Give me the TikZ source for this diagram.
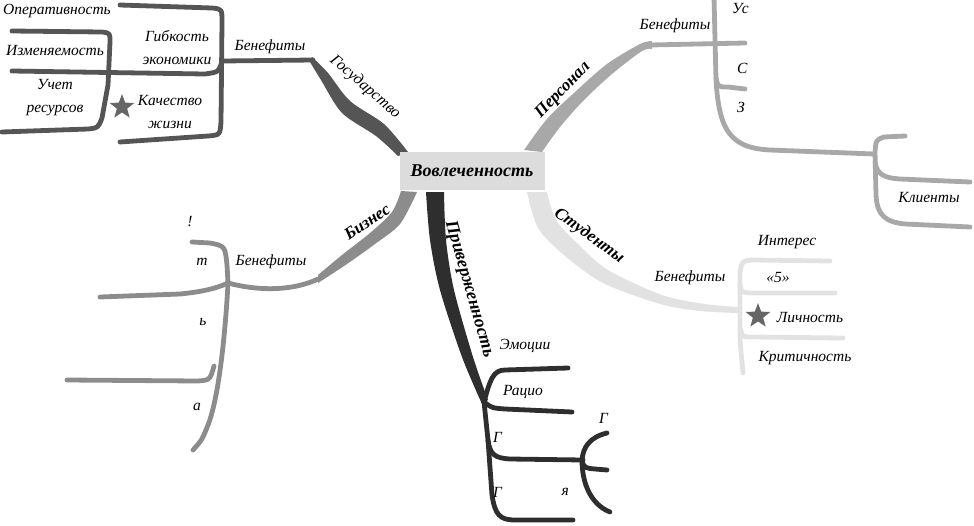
\documentclass[tikz,border=0pt]{standalone}
\usepackage{fontspec}
\setmainfont{Liberation Serif}
\usetikzlibrary{shapes.geometric}
\definecolor{cGos}{HTML}{555555}
\definecolor{cPer}{HTML}{A8A8A8}
\definecolor{cBiz}{HTML}{8C8C8C}
\definecolor{cPri}{HTML}{2E2E2E}
\definecolor{cStu}{HTML}{E2E2E2}
\definecolor{cBox}{HTML}{DCDCDC}
\definecolor{cStar}{HTML}{666666}
\tikzset{
  lbl/.style={font=\fontsize{15.5}{23}\selectfont\itshape, inner sep=1pt, align=center},
  blbl/.style={font=\fontsize{17}{19}\selectfont\bfseries\itshape, inner sep=1pt},
  rlbl/.style={font=\fontsize{16}{18}\selectfont\itshape, inner sep=1pt},
  twig/.style={line width=4.8pt, line cap=round, line join=round},
  starmark/.style={star, star points=5, star point ratio=2.4, fill=cStar, draw=none, minimum size=26pt, inner sep=0pt},
  corebox/.style={fill=cBox, minimum width=145pt, minimum height=38pt, inner sep=0pt, font=\fontsize{18}{20}\selectfont\bfseries\itshape}
}
\begin{document}
\begin{tikzpicture}[x=1pt,y=-1pt]
\useasboundingbox (0,0) rectangle (974,525);

% ---------- Государство ----------
\fill[cGos] plot[smooth] coordinates {(312,57) (328,73) (350,101) (384,124) (408,152)}
  -- plot[smooth] coordinates {(398,156) (376,136) (342,113) (321,80) (310,62)} -- cycle;
\coordinate (gB) at (313,60);
\draw[twig,cGos] (gB) -- (222,61) .. controls (219,72) .. (205,74) -- (12,71);
\draw[twig,cGos] (120,5) -- (212,8) .. controls (222,9) .. (222,22) -- (221,122) .. controls (220,135) .. (208,136) -- (120,142);
\draw[twig,cGos] (12,31) -- (102,32) .. controls (110,33) .. (110,42) -- (108,85) -- (102,118) .. controls (98,128) .. (88,129) -- (2,132);
\node[lbl] (oper) at (57,11) {Оперативность};
\node[lbl] (izm) at (55,50) {Изменяемость};
\node[lbl] (gib) at (177,48) {Гибкость\\экономики};
\node[lbl] (uchet) at (55,98) {Учет\\ресурсов};
\node[starmark] (st1) at (122,107) {};
\node[lbl] (kach) at (170,112) {Качество\\жизни};
\node[lbl] (benG) at (270,47) {Бенефиты};
\node[rlbl, rotate=-41] (gos) at (365,87) {Государство};

% ---------- Персонал ----------
\fill[cPer] plot[smooth] coordinates {(524,150) (547,119) (575,92) (607,64) (640,44) (652,41)}
  -- plot[smooth] coordinates {(652,49) (642,51) (612,74) (584,100) (560,127) (542,152)} -- cycle;
\draw[twig,cPer] (650,45) -- (745,43);
\draw[twig,cPer] (714,-3) -- (716,80) .. controls (719,130) and (730,148) .. (770,150) -- (874,154);
\draw[twig,cPer] (716,78) .. controls (718,87) .. (728,87) -- (745,89);
\draw[twig,cPer] (905,136) -- (884,137) .. controls (876,140) .. (875,152) -- (876,195) .. controls (877,215) and (885,222) .. (905,224) -- (970,227);
\draw[twig,cPer] (875,162) .. controls (877,175) and (885,178) .. (900,179) -- (970,182);
\node[blbl, rotate=46] (per) at (563,90) {Персонал};
\node[lbl] (benP) at (675,26) {Бенефиты};
\node[lbl, anchor=west] (fu) at (731,8) {Ус};
\node[lbl, anchor=west] (fs) at (736,68) {С};
\node[lbl, anchor=west] (fz) at (736,107) {З};
\node[lbl] (kli) at (929,198) {Клиенты};

% ---------- Бизнес ----------
\fill[cBiz] plot[smooth] coordinates {(401,191) (392,212) (370,233) (342,255) (318,275)}
  -- plot[smooth] coordinates {(318,283) (347,264) (375,244) (400,224) (417,192)} -- cycle;
\coordinate (bF) at (228,283);
\draw[twig,cBiz] (318,279) .. controls (295,290) and (262,292) .. (bF) .. controls (215,289) and (200,292) .. (180,294) -- (100,297);
\draw[twig,cBiz] (192,242) -- (210,243) .. controls (225,246) .. (227,265) -- (bF);
\draw[twig,cBiz] (bF) .. controls (225,340) and (218,400) .. (208,425) .. controls (202,440) .. (193,450);
\draw[twig,cBiz] (214,366) .. controls (210,380) .. (198,381) -- (67,380);
\node[lbl] (benB) at (271,262) {Бенефиты};
\node[blbl, rotate=34] (biz) at (367,222) {Бизнес};
\node[lbl] (f1) at (190,222) {!};
\node[lbl] (f2) at (202,262) {т};
\node[lbl] (f3) at (203,322) {ь};
\node[lbl] (f4) at (197,407) {а};

% ---------- Приверженность ----------
\fill[cPri] plot[smooth] coordinates {(426,192) (430,240) (440,290) (462,357) (482,404)}
  -- plot[smooth] coordinates {(488,400) (473,357) (454,290) (446,240) (444,192)} -- cycle;
\coordinate (pF) at (484,402);
\draw[twig,cPri] (pF) .. controls (490,380) and (493,370) .. (505,370) -- (568,368);
\draw[twig,cPri] (pF) .. controls (492,408) .. (505,409) -- (572,412);
\draw[twig,cPri] (pF) -- (488,440) .. controls (490,455) and (495,458) .. (510,459) -- (583,460);
\draw[twig,cPri] (488,440) -- (492,495) .. controls (495,515) and (500,520) .. (515,520) -- (573,520);
\draw[twig,cPri] (607,433) .. controls (590,437) and (583,447) .. (582,460) .. controls (582,485) and (592,505) .. (610,512);
\draw[twig,cPri] (582,462) .. controls (585,468) .. (595,469) -- (607,470);
\node[blbl, font=\fontsize{18}{20}\selectfont\bfseries\itshape, rotate=-74] (pri) at (469,289) {Приверженность};
\node[lbl] (emo) at (525,346) {Эмоции};
\node[lbl] (rat) at (523,392) {Рацио};
\node[lbl, anchor=west] (g1) at (492,437) {Г};
\node[lbl, anchor=west] (g2) at (492,492) {Г};
\node[lbl, anchor=east] (g3) at (570,492) {я};
\node[lbl, anchor=west] (g4) at (598,418) {Г};

% ---------- Студенты ----------
\fill[cStu] plot[smooth] coordinates {(527,192) (538,228) (565,256) (603,283) (660,304) (700,311) (738,313)}
  -- plot[smooth] coordinates {(738,307) (705,304) (662,295) (608,270) (578,244) (556,220) (547,192)} -- cycle;
\draw[twig,cStu] (830,261) -- (752,260) .. controls (742,261) .. (740,272) -- (740,340) -- (743,373);
\draw[twig,cStu] (740,285) .. controls (741,292) .. (750,293) -- (835,293);
\draw[twig,cStu] (741,330) .. controls (742,337) .. (752,337) -- (843,338);
\node[blbl, rotate=-36] (stu) at (589,236) {Студенты};
\node[lbl] (benS) at (690,278) {Бенефиты};
\node[lbl] (int) at (787,242) {Интерес};
\node[lbl] (five) at (778,277) {«5»};
\node[starmark] (st2) at (758,316) {};
\node[lbl] (lich) at (810,318) {Личность};
\node[lbl] (krit) at (805,358) {Критичность};

% ---------- центр ----------
\node[corebox] (core) at (472,171) {Вовлеченность};
\end{tikzpicture}
\end{document}
